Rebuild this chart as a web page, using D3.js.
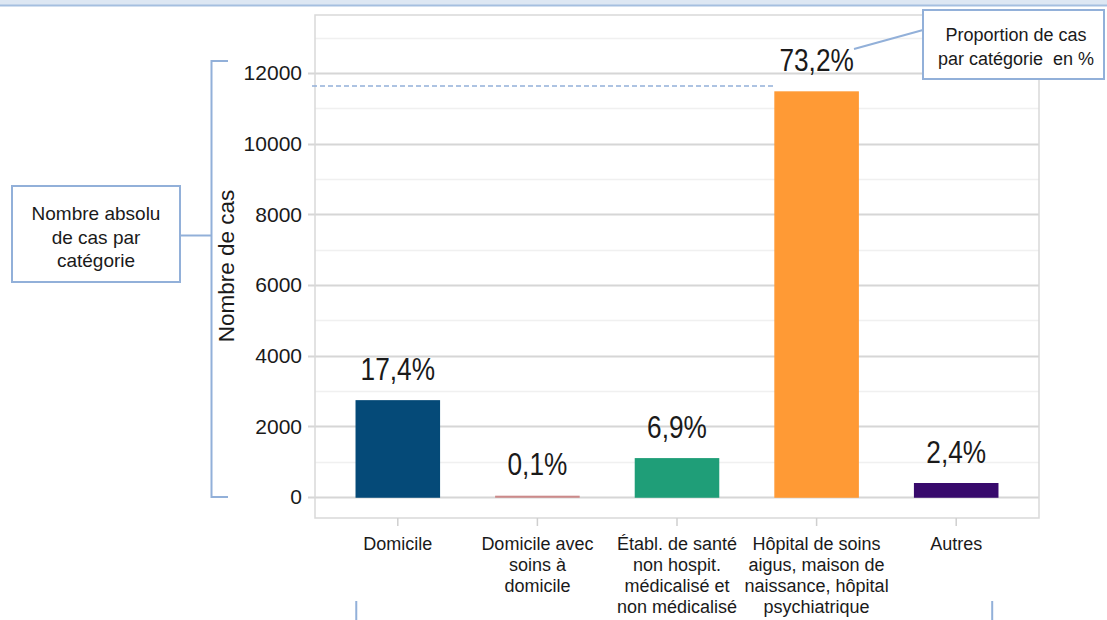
<!DOCTYPE html>
<html lang="fr">
<head>
<meta charset="utf-8">
<script src="https://cdn.jsdelivr.net/npm/d3@7"></script>
<style>
  html, body { margin: 0; padding: 0; background: #fff; }
  svg { display: block; font-family: "Liberation Sans", Arial, sans-serif; }
</style>
</head>
<body>
<svg id="chart" width="1107" height="620"></svg>
<script>
// Lieu de décès : nombre de cas et proportion par catégorie
const categories = [
  ["Domicile"],
  ["Domicile avec", "soins à", "domicile"],
  ["Établ. de santé", "non hospit.", "médicalisé et", "non médicalisé"],
  ["Hôpital de soins", "aigus, maison de", "naissance, hôpital", "psychiatrique"],
  ["Autres"]
];
const counts = [2720, 16, 1080, 11460, 375];
const percentLabels = ["17,4%", "0,1%", "6,9%", "73,2%", "2,4%"];
const barColors = ["#054a78", "#cc8a8a", "#1f9e78", "#ff9a35", "#380a6c"];
const yTicks = [0, 2000, 4000, 6000, 8000, 10000, 12000];
const yMinorTicks = [1000, 3000, 5000, 7000, 9000, 11000, 13000];

const svg = d3.select("#chart");
const accent = "#92b0d9";

// bandeau supérieur
svg.append("rect").attr("x", 0).attr("y", 0).attr("width", 1107).attr("height", 5).attr("fill", "#dde7f3");
svg.append("line").attr("x1", 0).attr("x2", 1107).attr("y1", 5.5).attr("y2", 5.5)
  .attr("stroke", "#a5bfe0").attr("stroke-width", 2);

// zone de tracé
const frame = { left: 315, right: 1039, top: 15, bottom: 518 };
const y = d3.scaleLinear().domain([-594, 13641]).range([frame.bottom, frame.top]);
const x = d3.scaleBand().domain(d3.range(categories.length)).range([328, 1026]).padding(0);
const barW = x.bandwidth() * 0.595;

// quadrillage secondaire puis principal
svg.append("g").selectAll("line").data(yMinorTicks).join("line")
  .attr("x1", frame.left).attr("x2", frame.right)
  .attr("y1", d => Math.round(y(d)) + 0.5).attr("y2", d => Math.round(y(d)) + 0.5)
  .attr("stroke", "#f0f0f0").attr("stroke-width", 1.5);
svg.append("g").selectAll("line").data(yTicks).join("line")
  .attr("x1", frame.left - 7).attr("x2", frame.right)
  .attr("y1", d => Math.round(y(d)) + 0.5).attr("y2", d => Math.round(y(d)) + 0.5)
  .attr("stroke", "#d6d6d6").attr("stroke-width", 2);

// cadre
svg.append("rect")
  .attr("x", frame.left).attr("y", frame.top)
  .attr("width", frame.right - frame.left).attr("height", frame.bottom - frame.top)
  .attr("fill", "none").attr("stroke", "#d9d9d9").attr("stroke-width", 1.5);

// axe Y
const yAxis = svg.append("g")
  .attr("transform", `translate(${frame.left - 8},0)`)
  .call(d3.axisLeft(y).tickValues(yTicks).tickSize(0).tickPadding(5).tickFormat(d3.format("d")));
yAxis.select(".domain").remove();
yAxis.selectAll("text").attr("font-size", 21).attr("fill", "#1a1a1a")
  .attr("font-family", "'Liberation Sans', Arial, sans-serif");

svg.append("text")
  .attr("transform", `translate(234,${y(6540)}) rotate(-90)`)
  .attr("text-anchor", "middle")
  .attr("font-size", 22.5).attr("fill", "#1a1a1a")
  .text("Nombre de cas");

// axe X
const xAxis = svg.append("g")
  .attr("transform", `translate(0,${frame.bottom})`)
  .call(d3.axisBottom(x).tickSize(8).tickFormat(""));
xAxis.select(".domain").remove();
xAxis.selectAll("line").attr("stroke", "#cfcfcf").attr("stroke-width", 1.5);

const xLabels = svg.append("g").selectAll("text").data(categories).join("text")
  .attr("x", (d, i) => x(i) + x.bandwidth() / 2)
  .attr("y", 550)
  .attr("text-anchor", "middle")
  .attr("font-size", 18).attr("fill", "#1a1a1a");
xLabels.selectAll("tspan").data(d => d).join("tspan")
  .attr("x", function () { return d3.select(this.parentNode).attr("x"); })
  .attr("dy", (d, i) => i === 0 ? 0 : 21)
  .text(d => d);

// barres
svg.append("g").selectAll("rect").data(counts).join("rect")
  .attr("x", (d, i) => x(i) + (x.bandwidth() - barW) / 2)
  .attr("y", d => y(d))
  .attr("width", barW)
  .attr("height", d => y(0) - y(d))
  .attr("fill", (d, i) => barColors[i])
  .attr("stroke", (d, i) => barColors[i]).attr("stroke-width", 1.5);

// proportions (police resserrée horizontalement)
svg.append("g").selectAll("text").data(counts).join("text")
  .attr("transform", (d, i) => `translate(${x(i) + x.bandwidth() / 2},${y(d) - 21}) scale(0.82,1)`)
  .attr("text-anchor", "middle")
  .attr("font-size", 32).attr("fill", "#1a1a1a")
  .text((d, i) => percentLabels[i]);

// ligne pointillée vers la barre la plus haute
const maxIdx = d3.maxIndex(counts);
svg.append("line")
  .attr("x1", frame.left - 3).attr("x2", x(maxIdx) + (x.bandwidth() - barW) / 2 - 1)
  .attr("y1", y(counts[maxIdx]) - 6).attr("y2", y(counts[maxIdx]) - 6)
  .attr("stroke", accent).attr("stroke-width", 1.5).attr("stroke-dasharray", "5,3");

// accolade de l'axe Y et encadré explicatif
const bx = 211.5;
svg.append("path")
  .attr("d", `M228,${y(12000) - 12}H${bx}V${y(0)}H228`)
  .attr("fill", "none").attr("stroke", accent).attr("stroke-width", 2);
svg.append("line").attr("x1", 180).attr("x2", bx).attr("y1", 235.5).attr("y2", 235.5)
  .attr("stroke", accent).attr("stroke-width", 2);
svg.append("rect").attr("x", 12).attr("y", 186).attr("width", 168).attr("height", 96)
  .attr("fill", "#fff").attr("stroke", accent).attr("stroke-width", 2);
svg.append("text").attr("text-anchor", "middle").attr("font-size", 19).attr("fill", "#1a1a1a")
  .selectAll("tspan").data(["Nombre absolu", "de cas par", "catégorie"]).join("tspan")
  .attr("x", 96).attr("y", (d, i) => 220 + i * 23.5).text(d => d);

// encadré des proportions
svg.append("line").attr("x1", 854).attr("y1", 49).attr("x2", 923).attr("y2", 30)
  .attr("stroke", accent).attr("stroke-width", 2);
svg.append("rect").attr("x", 923).attr("y", 10).attr("width", 181).attr("height", 69)
  .attr("fill", "#fff").attr("stroke", accent).attr("stroke-width", 2);
svg.append("text").attr("text-anchor", "middle").attr("font-size", 18).attr("fill", "#1a1a1a")
  .selectAll("tspan").data(["Proportion de cas", "par catégorie  en %"]).join("tspan")
  .attr("x", 1016).attr("y", (d, i) => 41 + i * 24).attr("xml:space", "preserve").text(d => d);

// accolade inférieure (amorce)
svg.append("g").selectAll("line").data([0, categories.length - 1]).join("line")
  .attr("x1", (d, i) => i === 0 ? x(d) + (x.bandwidth() - barW) / 2 : x(d) + x.bandwidth() / 2 + 36)
  .attr("x2", (d, i) => i === 0 ? x(d) + (x.bandwidth() - barW) / 2 : x(d) + x.bandwidth() / 2 + 36)
  .attr("y1", 601).attr("y2", 620)
  .attr("stroke", accent).attr("stroke-width", 2);
</script>
</body>
</html>
